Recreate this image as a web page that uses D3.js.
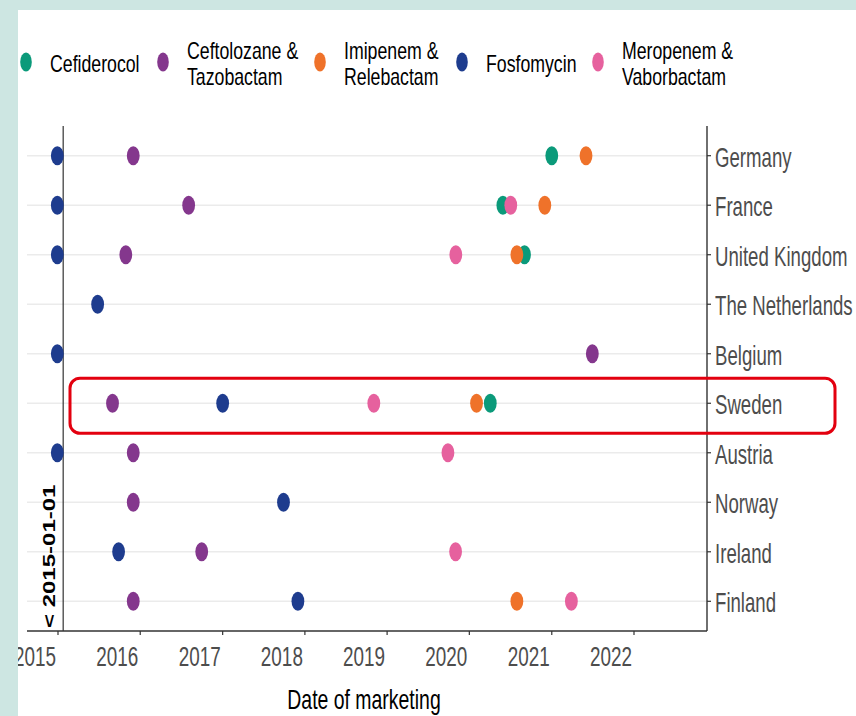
<!DOCTYPE html>
<html>
<head>
<meta charset="utf-8">
<script src="https://cdn.jsdelivr.net/npm/d3@7/dist/d3.min.js"></script>
<style>
  html, body { margin: 0; padding: 0; background: #fff; }
  svg { display: block; }
  text { font-family: "Liberation Sans", Arial, sans-serif; }
</style>
</head>
<body>
<svg id="chart" width="856" height="716"></svg>
<script>
// ---------- data ----------
const countries = ["Germany", "France", "United Kingdom", "The Netherlands", "Belgium",
                   "Sweden", "Austria", "Norway", "Ireland", "Finland"];
const drugs = ["Cefiderocol", "Ceftolozane &\nTazobactam", "Imipenem &\nRelebactam",
               "Fosfomycin", "Meropenem &\nVaborbactam"];
const drugColors = ["#0B9A7A", "#84378D", "#EF722A", "#1E3C8E", "#E6619E"];
const yearTicks = [2015, 2016, 2017, 2018, 2019, 2020, 2021, 2022];
const refLineDate = "2015-01-24";
const refLineLabel = "< 2015-01-01";
const xTitle = "Date of marketing";
// [country, drug index, date of marketing]
const points = [
  ["Germany", 3, "2014-12-29"], ["Germany", 1, "2015-12-01"], ["Germany", 0, "2021-01-01"], ["Germany", 2, "2021-06-02"],
  ["France", 3, "2014-12-29"], ["France", 1, "2016-08-03"], ["France", 0, "2020-05-29"], ["France", 4, "2020-07-03"], ["France", 2, "2020-12-01"],
  ["United Kingdom", 3, "2014-12-29"], ["United Kingdom", 1, "2015-10-29"], ["United Kingdom", 4, "2019-11-02"], ["United Kingdom", 0, "2020-09-02"], ["United Kingdom", 2, "2020-07-30"],
  ["The Netherlands", 3, "2015-06-26"],
  ["Belgium", 3, "2014-12-29"], ["Belgium", 1, "2021-06-30"],
  ["Sweden", 1, "2015-08-31"], ["Sweden", 3, "2017-01-01"], ["Sweden", 4, "2018-11-03"], ["Sweden", 2, "2020-02-02"], ["Sweden", 0, "2020-04-03"],
  ["Austria", 3, "2014-12-29"], ["Austria", 1, "2015-12-01"], ["Austria", 4, "2019-09-28"],
  ["Norway", 1, "2015-12-01"], ["Norway", 3, "2017-09-28"],
  ["Ireland", 3, "2015-09-27"], ["Ireland", 1, "2016-09-30"], ["Ireland", 4, "2019-11-01"],
  ["Finland", 1, "2015-12-01"], ["Finland", 3, "2017-12-01"], ["Finland", 2, "2020-07-30"], ["Finland", 4, "2021-03-29"]
];
const highlightCountry = "Sweden";

// ---------- layout ----------
const W = 856, H = 716;
const panel = { left: 27, right: 707, top: 126, bottom: 631 };
const parse = d3.timeParse("%Y-%m-%d");

const svg = d3.select("#chart");
svg.append("rect").attr("width", W).attr("height", H).attr("fill", "#CDE6E2");
svg.append("rect").attr("x", 18).attr("y", 10).attr("width", W - 18).attr("height", H - 10).attr("fill", "#fff");
svg.append("clipPath").attr("id", "clip").append("rect")
  .attr("x", 18).attr("y", 10).attr("width", W - 18).attr("height", H - 10);
const g = svg.append("g").attr("clip-path", "url(#clip)");

const x = d3.scaleTime()
  .domain([new Date(yearTicks[0], 0, 1), new Date(yearTicks[yearTicks.length - 1], 0, 1)])
  .range([58, 634]);
const y = d3.scalePoint().domain(countries).range([panel.top, panel.bottom]).padding(0.6);

function label(parent, tx, ty, txt, o) {
  const t = parent.append("text")
    .attr("transform", `translate(${tx},${ty}) scale(${o.sx},1)` + (o.rot ? ` rotate(${o.rot})` : ""))
    .attr("font-size", o.size)
    .attr("fill", o.fill || "#000")
    .attr("text-anchor", o.anchor || "start")
    .text(txt);
  if (o.weight) t.attr("font-weight", o.weight);
  return t;
}

// gridlines
g.append("g").selectAll("line").data(countries).join("line")
  .attr("x1", panel.left).attr("x2", panel.right)
  .attr("y1", d => y(d)).attr("y2", d => y(d))
  .attr("stroke", "#EBEBEB").attr("stroke-width", 1.5);

// reference line
const rx = x(parse(refLineDate));
g.append("line").attr("x1", rx).attr("x2", rx).attr("y1", panel.top).attr("y2", panel.bottom)
  .attr("stroke", "#333").attr("stroke-width", 1.2);
label(g, rx - 8, 628, refLineLabel, { sx: 0.68, size: 24, rot: -90, weight: "bold" });

// x axis
const xAxis = g.append("g").attr("transform", `translate(0,${panel.bottom})`);
xAxis.append("line").attr("x1", panel.left).attr("x2", panel.right)
  .attr("stroke", "#333").attr("stroke-width", 1.4);
yearTicks.forEach(yr => {
  const tx = x(new Date(yr, 0, 1));
  xAxis.append("line").attr("x1", tx).attr("x2", tx).attr("y1", 0).attr("y2", 4)
    .attr("stroke", "#333").attr("stroke-width", 1.2);
  label(xAxis, tx - 2, 35, String(yr), { sx: 0.70, size: 27, fill: "#4D4D4D", anchor: "end" });
});
label(g, (panel.left + panel.right) / 2 - 3, 709, xTitle, { sx: 0.72, size: 27, anchor: "middle" });

// right y axis
const yAxis = g.append("g").attr("transform", `translate(${panel.right},0)`);
yAxis.append("line").attr("y1", panel.top).attr("y2", panel.bottom)
  .attr("stroke", "#333").attr("stroke-width", 1.4);
countries.forEach(c => {
  yAxis.append("line").attr("x1", 0).attr("x2", 4).attr("y1", y(c)).attr("y2", y(c))
    .attr("stroke", "#333").attr("stroke-width", 1.2);
  label(yAxis, 8, y(c) + 11, c, { sx: 0.69, size: 27, fill: "#4D4D4D" });
});

// points
g.append("g").selectAll("ellipse").data(points).join("ellipse")
  .attr("cx", d => x(parse(d[2])))
  .attr("cy", d => y(d[0]))
  .attr("rx", 6.4).attr("ry", 9.5)
  .attr("fill", d => drugColors[d[1]]);

// highlight box
const hy = y(highlightCountry);
g.append("rect").attr("x", 70).attr("y", hy - 25).attr("width", 765).attr("height", 55)
  .attr("rx", 10).attr("ry", 10)
  .attr("fill", "none").attr("stroke", "#E3000F").attr("stroke-width", 3);

// legend
const legendX = [26, 163, 320, 462, 598];
const legend = g.append("g");
drugs.forEach((d, i) => {
  legend.append("ellipse").attr("cx", legendX[i]).attr("cy", 62).attr("rx", 5.8).attr("ry", 9.5)
    .attr("fill", drugColors[i]);
  const lines = d.split("\n");
  if (lines.length === 1) {
    label(legend, legendX[i] + 24, 72, lines[0], { sx: 0.77, size: 23 });
  } else {
    lines.forEach((ln, j) => label(legend, legendX[i] + 24, 59 + j * 26, ln, { sx: 0.77, size: 23 }));
  }
});
</script>
</body>
</html>
